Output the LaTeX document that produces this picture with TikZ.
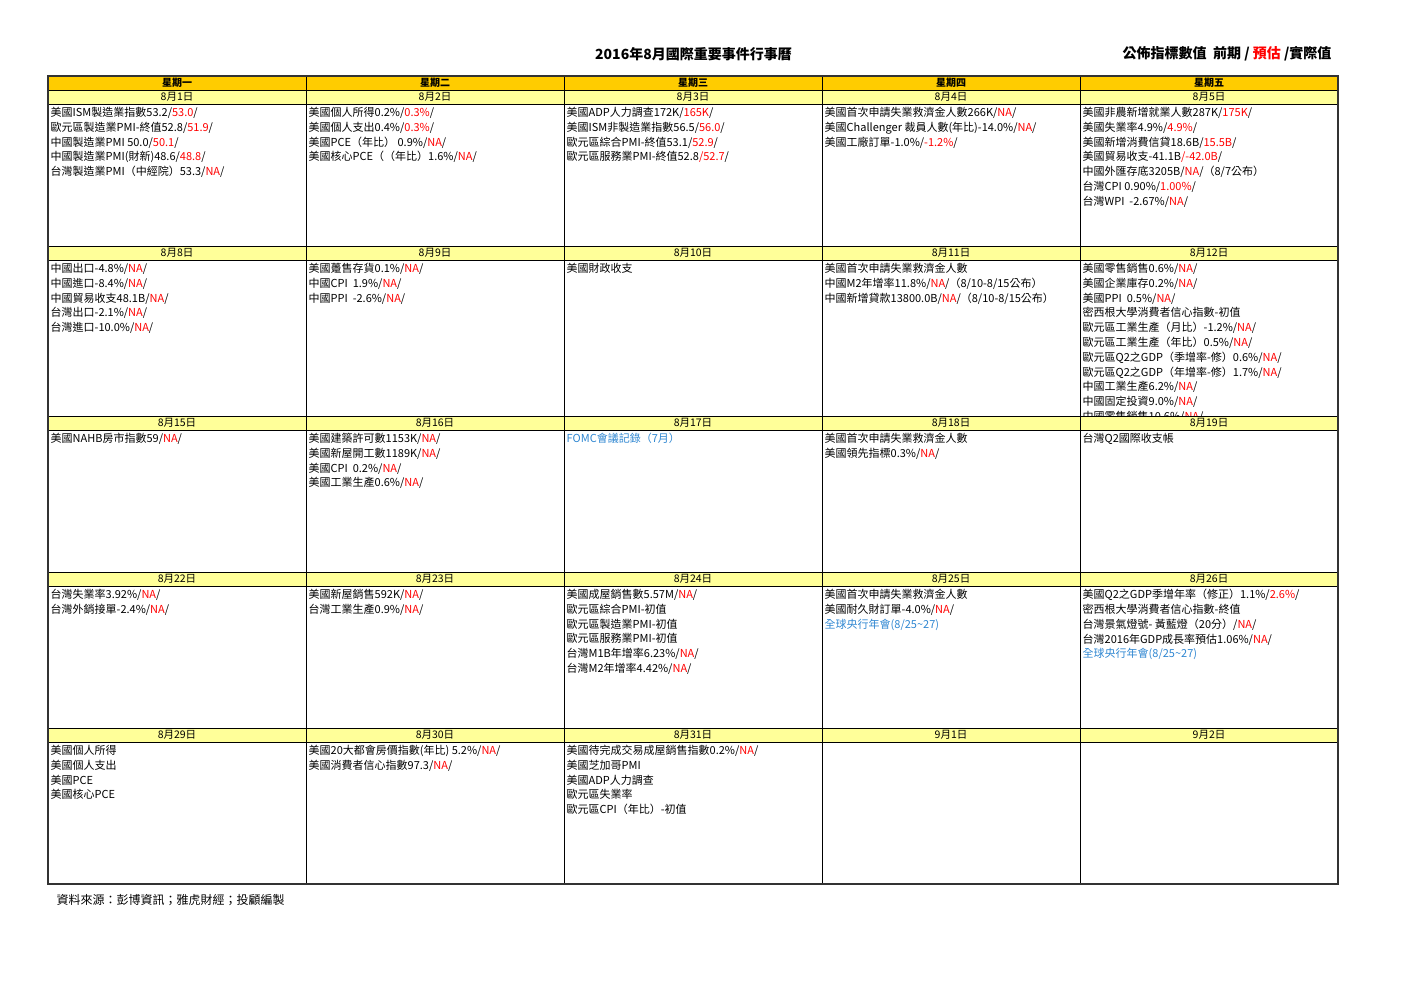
\documentclass[tikz,border=0pt]{standalone}
\usepackage{fontspec}
\setmainfont{Noto Sans CJK TC}
\definecolor{dayhead}{HTML}{FFCC00}
\definecolor{datebar}{HTML}{FFFF99}
\definecolor{estred}{HTML}{FF0000}
\definecolor{meetblue}{HTML}{2E86D1}
\newcommand{\est}[1]{\textcolor{estred}{#1}}
\newcommand{\meet}[1]{\textcolor{meetblue}{#1}}

\begin{document}
\begin{tikzpicture}[x=1pt,y=-1pt,
    events/.style={anchor=north west,align=left,inner sep=0pt,font=\fontsize{11}{14.8}\selectfont},
    daybox/.style={inner sep=0pt,font=\fontsize{10}{12}\selectfont\bfseries},
    datebox/.style={inner sep=0pt,font=\fontsize{10.5}{12}\selectfont}]
    \useasboundingbox (0,0) rectangle (1403,992);
    \node[font=\fontsize{14}{16}\selectfont\bfseries] (title) at (693.5,54) {2016年8月國際重要事件行事曆};
    \node[anchor=east,font=\fontsize{14}{16}\selectfont\bfseries] (legend) at (1335,54) {公佈指標數值\ \ 前期 / \est{預估} /實際值};

    \node[events] (ev0801) at (50.5,107) {美國ISM製造業指數53.2/\est{53.0}/\\歐元區製造業PMI-終值52.8/\est{51.9}/\\中國製造業PMI 50.0/\est{50.1}/\\中國製造業PMI(財新)48.6/\est{48.8}/\\台灣製造業PMI（中經院）53.3/\est{NA}/};
    \node[events] (ev0802) at (308.5,107) {美國個人所得0.2\%/\est{0.3\%}/\\美國個人支出0.4\%/\est{0.3\%}/\\美國PCE（年比） 0.9\%/\est{NA}/\\美國核心PCE（（年比）1.6\%/\est{NA}/};
    \node[events] (ev0803) at (566.5,107) {美國ADP人力調查172K/\est{165K}/\\美國ISM非製造業指數56.5/\est{56.0}/\\歐元區綜合PMI-終值53.1/\est{52.9}/\\歐元區服務業PMI-終值52.8\est{/52.7}/};
    \node[events] (ev0804) at (824.5,107) {美國首次申請失業救濟金人數266K/\est{NA}/\\美國Challenger 裁員人數(年比)-14.0\%/\est{NA}/\\美國工廠訂單-1.0\%/\est{-1.2\%}/};
    \node[events] (ev0805) at (1082.5,107) {美國非農新增就業人數287K/\est{175K}/\\美國失業率4.9\%/\est{4.9\%}/\\美國新增消費信貸18.6B/\est{15.5B}/\\美國貿易收支-41.1B\est{/-42.0B}/\\中國外匯存底3205B/\est{NA}/（8/7公布）\\台灣CPI 0.90\%/\est{1.00\%}/\\台灣WPI\ \ -2.67\%/\est{NA}/};

    \node[events] (ev0808) at (50.5,263) {中國出口-4.8\%/\est{NA}/\\中國進口-8.4\%/\est{NA}/\\中國貿易收支48.1B/\est{NA}/\\台灣出口-2.1\%/\est{NA}/\\台灣進口-10.0\%/\est{NA}/};
    \node[events] (ev0809) at (308.5,263) {美國躉售存貨0.1\%/\est{NA}/\\中國CPI\ \ 1.9\%/\est{NA}/\\中國PPI\ \ -2.6\%/\est{NA}/};
    \node[events] (ev0810) at (566.5,263) {美國財政收支};
    \node[events] (ev0811) at (824.5,263) {美國首次申請失業救濟金人數\\中國M2年增率11.8\%/\est{NA}/（8/10-8/15公布）\\中國新增貸款13800.0B/\est{NA}/（8/10-8/15公布）};
    \begin{scope}
        \clip (1080,260) rectangle (1338,416);
        \node[events] (ev0812) at (1082.5,263) {美國零售銷售0.6\%/\est{NA}/\\美國企業庫存0.2\%/\est{NA}/\\美國PPI\ \ 0.5\%/\est{NA}/\\密西根大學消費者信心指數-初值\\歐元區工業生產（月比）-1.2\%/\est{NA}/\\歐元區工業生產（年比）0.5\%/\est{NA}/\\歐元區Q2之GDP（季增率-修）0.6\%/\est{NA}/\\歐元區Q2之GDP（年增率-修）1.7\%/\est{NA}/\\中國工業生產6.2\%/\est{NA}/\\中國固定投資9.0\%/\est{NA}/\\中國零售銷售10.6\%/\est{NA}/};
    \end{scope}

    \node[events] (ev0815) at (50.5,433) {美國NAHB房市指數59/\est{NA}/};
    \node[events] (ev0816) at (308.5,433) {美國建築許可數1153K/\est{NA}/\\美國新屋開工數1189K/\est{NA}/\\美國CPI\ \ 0.2\%/\est{NA}/\\美國工業生產0.6\%/\est{NA}/};
    \node[events] (ev0817) at (566.5,433) {\meet{FOMC會議記錄（7月）}};
    \node[events] (ev0818) at (824.5,433) {美國首次申請失業救濟金人數\\美國領先指標0.3\%/\est{NA}/};
    \node[events] (ev0819) at (1082.5,433) {台灣Q2國際收支帳};

    \node[events] (ev0822) at (50.5,589) {台灣失業率3.92\%/\est{NA}/\\台灣外銷接單-2.4\%/\est{NA}/};
    \node[events] (ev0823) at (308.5,589) {美國新屋銷售592K/\est{NA}/\\台灣工業生產0.9\%/\est{NA}/};
    \node[events] (ev0824) at (566.5,589) {美國成屋銷售數5.57M/\est{NA}/\\歐元區綜合PMI-初值\\歐元區製造業PMI-初值\\歐元區服務業PMI-初值\\台灣M1B年增率6.23\%/\est{NA}/\\台灣M2年增率4.42\%/\est{NA}/};
    \node[events] (ev0825) at (824.5,589) {美國首次申請失業救濟金人數\\美國耐久財訂單-4.0\%/\est{NA}/\\\meet{全球央行年會(8/25\textasciitilde 27)}};
    \node[events] (ev0826) at (1082.5,589) {美國Q2之GDP季增年率（修正）1.1\%/\est{2.6\%}/\\密西根大學消費者信心指數-終值\\台灣景氣燈號- 黃藍燈（20分）/\est{NA}/\\台灣2016年GDP成長率預估1.06\%/\est{NA}/\\\meet{全球央行年會(8/25\textasciitilde 27)}};

    \node[events] (ev0829) at (50.5,745) {美國個人所得\\美國個人支出\\美國PCE\\美國核心PCE};
    \node[events] (ev0830) at (308.5,745) {美國20大都會房價指數(年比) 5.2\%/\est{NA}/\\美國消費者信心指數97.3/\est{NA}/};
    \node[events] (ev0831) at (566.5,745) {美國待完成交易成屋銷售指數0.2\%/\est{NA}/\\美國芝加哥PMI\\美國ADP人力調查\\歐元區失業率\\歐元區CPI（年比）-初值};

    \fill[dayhead] (48,76) rectangle (1338,90);
    \foreach \d [count=\i from 0] in {一,二,三,四,五}
        \node[daybox] (day\i) at ({48+258*\i+129},83) {星期\d};
    \foreach \ytop/\f [count=\w] in {90/1,246/8,416/15,572/22,728/29}{
        \fill[datebar] (48,\ytop) rectangle (1338,\ytop+14);
        \draw (48,\ytop) -- (1338,\ytop) (48,\ytop+14) -- (1338,\ytop+14);
        \foreach \i in {0,...,4}{
            \pgfmathtruncatemacro\dnum{\f+\i}
            \ifnum\dnum>31 \pgfmathtruncatemacro\dnum{\dnum-31}\def\mnum{9}\else\def\mnum{8}\fi
            \node[datebox] (date\w\i) at ({48+258*\i+129},\ytop+7) {\mnum 月\dnum 日};
        }
    }
    \foreach \x in {306,564,822,1080}
        \draw (\x,76) -- (\x,884);
    \draw[line width=1.3pt,color=black!80] (48,76) rectangle (1338,884);

    \node[anchor=west,font=\fontsize{12}{14}\selectfont] (source) at (53,900) {資料來源：彭博資訊；雅虎財經；投顧編製};
\end{tikzpicture}
\end{document}
